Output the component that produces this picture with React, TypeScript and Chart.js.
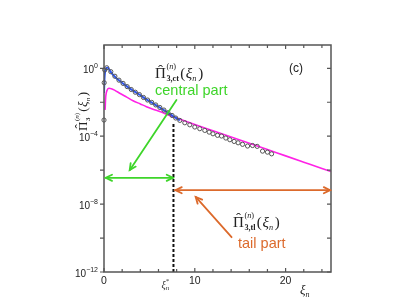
import { useEffect, useRef } from "react";
import { Chart, registerables } from "chart.js";
Chart.register(...registerables);

// ---- axis ranges & ticks ----
const X_MIN = 0;
const X_MAX = 25;
const Y_MIN = 1e-12;
const Y_MAX = 23.5;
const xTickMajor = [0, 10, 20];
const xTickMinor = [2, 4, 6, 8, 12, 14, 16, 18, 22, 24];
const yTickLabelExp = [0, -4, -8, -12];
const yTickAllExp = [0, -2, -4, -6, -8, -10, -12];

// ---- blue curve (central part) ----
const blueXi = [0, 0.05, 0.1, 0.2, 0.3, 0.45, 0.7, 1.0, 1.4, 1.73, 2.1, 2.47, 2.9, 3.2, 3.6, 3.94, 4.3, 4.67, 5.0, 5.4, 5.8, 6.14, 6.5, 6.88, 7.25, 7.6, 8.0, 8.35];
const blueExp = [-1.45, -0.65, -0.28, -0.05, 0.03, 0.02, -0.18, -0.39, -0.6, -0.74, -0.9, -1.05, -1.21, -1.32, -1.45, -1.56, -1.7, -1.83, -1.94, -2.07, -2.2, -2.31, -2.43, -2.56, -2.69, -2.82, -2.95, -3.07];

// ---- open circles (numerical data) ----
const circleXi = [0, 0.02, 0.08, 0.3, 0.75, 1.2, 1.65, 2.1, 2.55, 3.0, 3.45, 3.9, 4.35, 4.8, 5.25, 5.7, 6.15, 6.6, 7.05, 7.5, 7.9, 8.35, 8.9, 9.45, 10.0, 10.55, 11.1, 11.58, 12.0, 12.5, 12.94, 13.42, 13.86, 14.33, 14.77, 15.26, 15.81, 16.36, 16.87, 17.46, 18.0, 18.46];
const circleExp = [-3.05, -0.85, -0.1, 0.03, -0.2, -0.47, -0.7, -0.89, -1.08, -1.25, -1.41, -1.55, -1.72, -1.87, -2.01, -2.16, -2.31, -2.46, -2.62, -2.78, -2.93, -3.07, -3.21, -3.33, -3.46, -3.56, -3.66, -3.76, -3.86, -3.95, -3.99, -4.11, -4.21, -4.31, -4.39, -4.48, -4.58, -4.55, -4.6, -4.88, -4.94, -5.04];

// ---- magenta curve (tail part) ----
const magentaXi = [0.12, 0.18, 0.25, 0.35, 0.55, 0.8, 1.2, 1.73, 2.5, 3.2, 4.0, 4.67, 5.4, 6.14, 7.24, 8, 10, 12, 14, 16, 18, 20, 22, 24, 25];
const magentaExp = [-2.45, -1.75, -1.45, -1.28, -1.18, -1.2, -1.3, -1.47, -1.7, -1.91, -2.1, -2.26, -2.41, -2.55, -2.78, -2.93, -3.31, -3.68, -4.05, -4.42, -4.79, -5.16, -5.53, -5.9, -6.08];

// ---- dashed separator xi* ----
const xiStar = 7.65;
const dashedExp = [-12, -3.2];

// ---- annotation anchors (data units: xi, log10) ----
const greenDiag = [[7.98, -1.87], [2.83, -6.0]];
const greenSpan = [[0.19, -6.45], [7.6, -6.45]];
const orangeSpan = [[7.87, -7.18], [24.9, -7.18]];
const orangeDiag = [[14.05, -9.95], [10.1, -7.58]];

const SERIF = '"Liberation Serif","DejaVu Serif",serif';
const SANS = '"Liberation Sans","DejaVu Sans",sans-serif';
const GREEN = "#3ed52a";
const ORANGE = "#dc6a2c";

const pts = (xs: number[], es: number[]) => xs.map((x, i) => ({ x, y: Math.pow(10, es[i]) }));

function drawPiExpr(ctx: CanvasRenderingContext2D, x: number, y: number, size: number, sub: string, color: string) {
  ctx.fillStyle = color;
  ctx.textBaseline = "alphabetic";
  ctx.textAlign = "left";
  ctx.font = `${size}px ${SERIF}`;
  ctx.fillText("Π", x, y);
  const wPi = ctx.measureText("Π").width;
  ctx.textAlign = "center";
  ctx.fillText("ˆ", x + wPi / 2, y - size * 0.22);
  ctx.textAlign = "left";
  const s2 = size * 0.55;
  let cx = x + wPi + size * 0.04;
  const supY = y - size * 0.6;
  let sx = cx;
  ctx.font = `${s2}px ${SERIF}`;
  ctx.fillText("(", sx, supY);
  sx += ctx.measureText("(").width;
  ctx.font = `italic ${s2}px ${SERIF}`;
  ctx.fillText("n", sx, supY);
  sx += ctx.measureText("n").width;
  ctx.font = `${s2}px ${SERIF}`;
  ctx.fillText(")", sx, supY);
  sx += ctx.measureText(")").width;
  ctx.font = `bold ${s2}px ${SERIF}`;
  ctx.fillText(sub, cx, y + size * 0.22);
  const subW = ctx.measureText(sub).width;
  cx = Math.max(sx, cx + subW) + size * 0.08;
  ctx.font = `${size}px ${SERIF}`;
  ctx.fillText("(", cx, y);
  cx += ctx.measureText("(").width + size * 0.04;
  ctx.font = `italic ${size}px ${SERIF}`;
  ctx.fillText("ξ", cx, y);
  cx += ctx.measureText("ξ").width;
  ctx.font = `italic ${s2}px ${SERIF}`;
  ctx.fillText("n", cx, y + size * 0.2);
  cx += ctx.measureText("n").width + size * 0.12;
  ctx.font = `${size}px ${SERIF}`;
  ctx.fillText(")", cx, y);
}

function arrowHead(ctx: CanvasRenderingContext2D, x1: number, y1: number, x2: number, y2: number) {
  const a = Math.atan2(y2 - y1, x2 - x1);
  const L = 7;
  const w = 0.45;
  ctx.beginPath();
  ctx.moveTo(x2 - L * Math.cos(a - w), y2 - L * Math.sin(a - w));
  ctx.lineTo(x2, y2);
  ctx.lineTo(x2 - L * Math.cos(a + w), y2 - L * Math.sin(a + w));
  ctx.stroke();
}

const decor = {
  id: "decor",
  afterDatasetsDraw(chart: any) {
    const { ctx, chartArea: a, scales } = chart;
    const xs = scales.x;
    const ys = scales.y;
    const X = (v: number) => xs.getPixelForValue(v);
    const Y = (e: number) => ys.getPixelForValue(Math.pow(10, e));
    ctx.save();

    // frame
    ctx.strokeStyle = "#555";
    ctx.lineWidth = 1.5;
    ctx.strokeRect(a.left, a.top, a.right - a.left, a.bottom - a.top);

    // ticks
    ctx.lineWidth = 1.2;
    ctx.beginPath();
    for (const v of xTickMajor) {
      const px = X(v);
      ctx.moveTo(px, a.bottom); ctx.lineTo(px, a.bottom - 4);
      ctx.moveTo(px, a.top); ctx.lineTo(px, a.top + 4);
    }
    for (const v of xTickMinor) {
      const px = X(v);
      ctx.moveTo(px, a.bottom); ctx.lineTo(px, a.bottom - 3);
      ctx.moveTo(px, a.top); ctx.lineTo(px, a.top + 3);
    }
    for (const e of yTickAllExp) {
      const py = Y(e);
      ctx.moveTo(a.left, py); ctx.lineTo(a.left - 4, py);
      ctx.moveTo(a.right, py); ctx.lineTo(a.right - 4, py);
    }
    ctx.stroke();

    // y tick labels
    ctx.fillStyle = "#222";
    ctx.textBaseline = "alphabetic";
    for (const e of yTickLabelExp) {
      const py = Y(e);
      const sup = e === 0 ? "0" : "\u2212" + String(-e);
      ctx.font = `10px ${SANS}`;
      const wb = ctx.measureText("10").width;
      ctx.font = `7px ${SANS}`;
      const ws = ctx.measureText(sup).width;
      const x0 = a.left - 6 - wb - ws;
      ctx.textAlign = "left";
      ctx.font = `10px ${SANS}`;
      ctx.fillText("10", x0, py + 5);
      ctx.font = `7px ${SANS}`;
      ctx.fillText(sup, x0 + wb, py);
    }
    // x tick labels
    ctx.font = `10.5px ${SANS}`;
    ctx.textAlign = "center";
    for (const v of xTickMajor) {
      ctx.fillText(String(v), X(v), a.bottom + 12);
    }

    // axis labels
    ctx.textAlign = "left";
    ctx.font = `italic 13px ${SERIF}`;
    ctx.fillText("ξ", 300, 294);
    const wx = ctx.measureText("ξ").width;
    ctx.font = `italic 8px ${SERIF}`;
    ctx.fillText("n", 300 + wx, 297);

    // xi* label
    ctx.fillStyle = "#333";
    ctx.font = `italic 10px ${SERIF}`;
    const sxStar = X(xiStar) - 12;
    ctx.fillText("ξ", sxStar, 288);
    const wxs = ctx.measureText("ξ").width;
    ctx.font = `7px ${SERIF}`;
    ctx.fillText("*", sxStar + wxs, 283);
    ctx.font = `italic 7px ${SERIF}`;
    ctx.fillText("n", sxStar + wxs, 290);

    // rotated y label
    ctx.save();
    ctx.translate(87, 131);
    ctx.rotate(-Math.PI / 2);
    drawPiExpr(ctx, 0, 0, 13, "3", "#222");
    ctx.restore();

    // (c)
    ctx.fillStyle = "#222";
    ctx.font = `12px ${SANS}`;
    ctx.textAlign = "center";
    ctx.fillText("(c)", 296, 72);

    // annotations text
    drawPiExpr(ctx, 155, 78, 15, "3,ct", "#222");
    ctx.fillStyle = GREEN;
    ctx.textAlign = "left";
    ctx.font = `14.5px ${SANS}`;
    ctx.fillText("central part", 155, 95);
    drawPiExpr(ctx, 233, 226.5, 15, "3,tl", "#222");
    ctx.fillStyle = ORANGE;
    ctx.font = `14.5px ${SANS}`;
    ctx.fillText("tail part", 238, 248);

    // arrows
    ctx.lineWidth = 1.8;
    ctx.lineCap = "round";
    const seg = (p: number[][], color: string, both: boolean) => {
      const x1 = X(p[0][0]), y1 = Y(p[0][1]), x2 = X(p[1][0]), y2 = Y(p[1][1]);
      ctx.strokeStyle = color;
      ctx.beginPath();
      ctx.moveTo(x1, y1);
      ctx.lineTo(x2, y2);
      ctx.stroke();
      arrowHead(ctx, x1, y1, x2, y2);
      if (both) arrowHead(ctx, x2, y2, x1, y1);
    };
    seg(greenDiag, GREEN, false);
    seg(greenSpan, GREEN, true);
    seg(orangeSpan, ORANGE, true);
    seg(orangeDiag, ORANGE, false);

    ctx.restore();
  },
};

export default function App() {
  const ref = useRef<HTMLCanvasElement | null>(null);
  useEffect(() => {
    if (!ref.current) return;
    const chart = new Chart(ref.current, {
      type: "scatter",
      data: {
        datasets: [
          {
            data: pts(circleXi, circleExp),
            showLine: false,
            pointRadius: 2.1,
            pointBorderWidth: 1,
            pointBorderColor: "#555",
            pointBackgroundColor: "rgba(0,0,0,0)",
            clip: false,
          } as any,
          {
            data: pts(blueXi, blueExp),
            showLine: true,
            pointRadius: 0,
            borderColor: "#2f56ee",
            borderWidth: 2,
            cubicInterpolationMode: "monotone",
          },
          {
            data: pts([xiStar, xiStar], dashedExp),
            showLine: true,
            pointRadius: 0,
            borderColor: "#111",
            borderWidth: 2,
            borderDash: [3, 2],
          },
          {
            data: pts(magentaXi, magentaExp),
            showLine: true,
            pointRadius: 0,
            borderColor: "#ff22e6",
            borderWidth: 1.6,
            cubicInterpolationMode: "monotone",
          },
        ],
      },
      options: {
        responsive: false,
        animation: false,
        devicePixelRatio: 1,
        layout: { padding: { left: 104, top: 45, right: 78, bottom: 35 } },
        plugins: { legend: { display: false }, tooltip: { enabled: false } },
        scales: {
          x: { type: "linear", min: X_MIN, max: X_MAX, display: false },
          y: { type: "logarithmic", min: Y_MIN, max: Y_MAX, display: false },
        },
      },
      plugins: [decor],
    });
    return () => chart.destroy();
  }, []);
  return (
    <div style={{ position: "absolute", left: 0, top: 0, width: 409, height: 307, background: "#fff" }}>
      <canvas ref={ref} width={409} height={307} />
    </div>
  );
}
